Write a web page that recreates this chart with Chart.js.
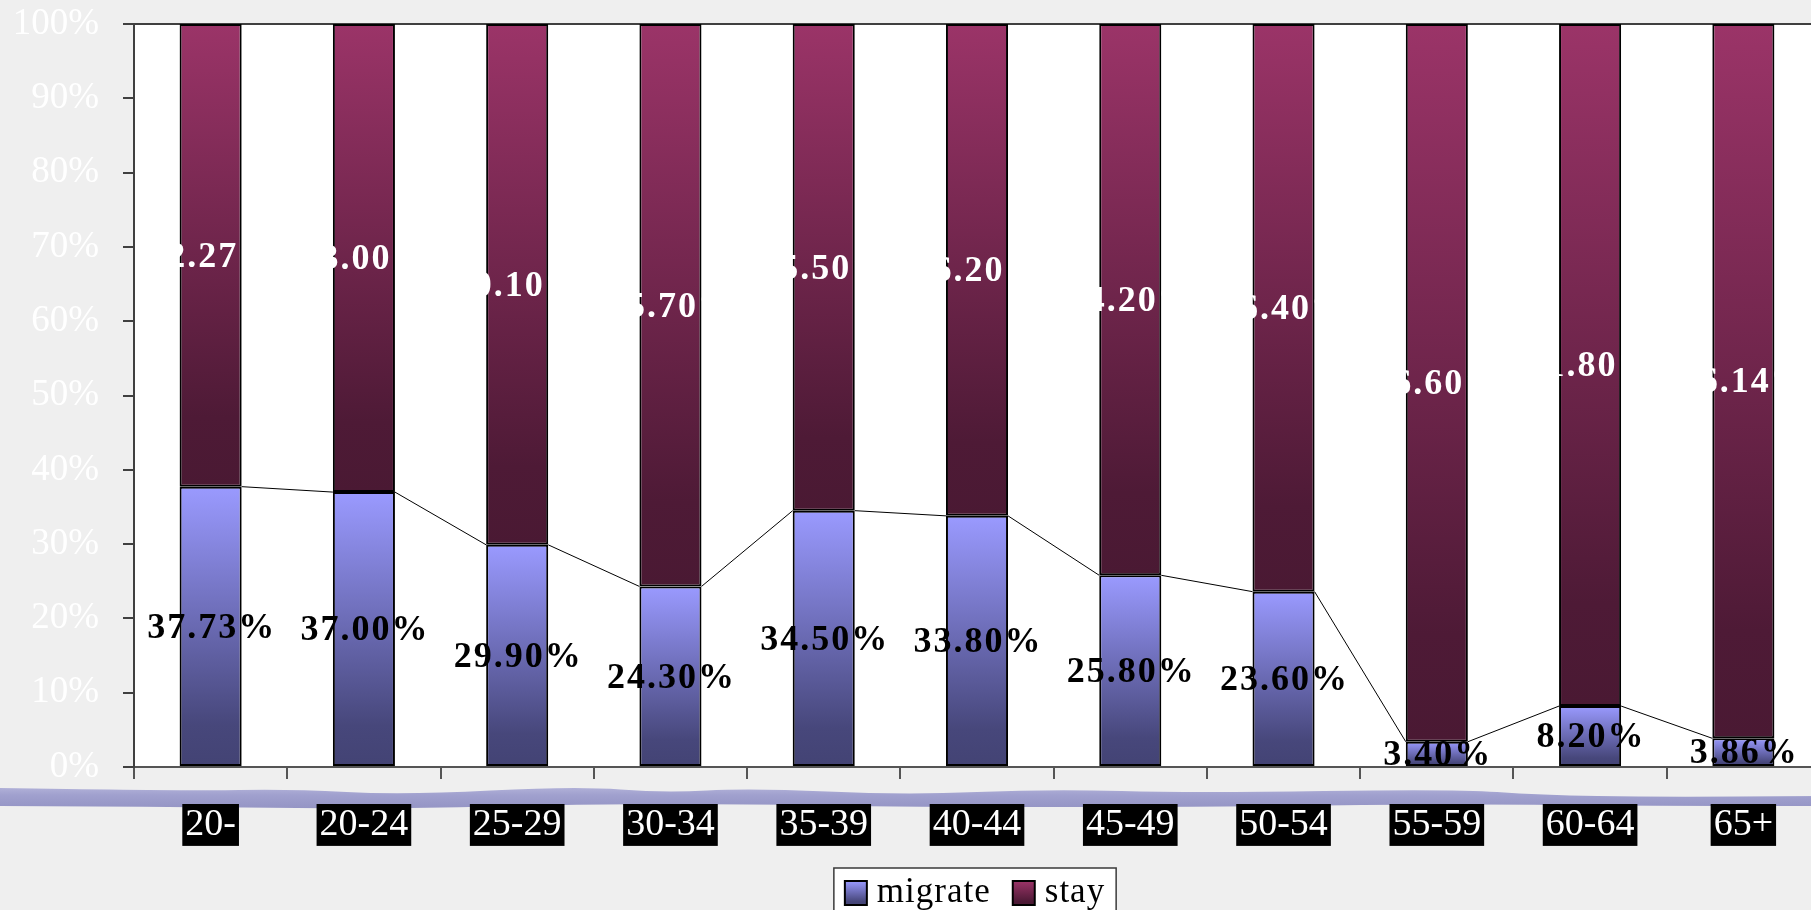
<!DOCTYPE html>
<html><head><meta charset="utf-8">
<script src="https://cdn.jsdelivr.net/npm/chart.js@4.4.1/dist/chart.umd.min.js"></script>
<style>
html,body{margin:0;padding:0;overflow:hidden;background:#efefef;width:1811px;height:910px}
canvas{display:block}
</style></head>
<body><canvas id="c" width="1822" height="910"></canvas>
<script>
const categories = ['20-','20-24','25-29','30-34','35-39','40-44','45-49','50-54','55-59','60-64','65+'];
const migrate = [37.73,37.00,29.90,24.30,34.50,33.80,25.80,23.60,3.40,8.20,3.86];
const stay = [62.27,63.00,70.10,75.70,65.50,66.20,74.20,76.40,96.60,91.80,96.14];
const yTicks = [0,10,20,30,40,50,60,70,80,90,100];
const seriesNames = ['migrate','stay'];

const SERIF = '"Liberation Serif","Times New Roman",serif';
const migrateStops = [[0,'#9a9aff'],[0.85,'#47477b'],[1,'#434374']];
const stayStops = [[0,'#9b3468'],[0.85,'#4e1a36'],[1,'#4a1933']];

function grad(ctx, top, bottom, stops, fallback){
  if (!isFinite(top) || !isFinite(bottom) || top === bottom) return fallback;
  const g = ctx.createLinearGradient(0, top, 0, bottom);
  stops.forEach(([o,c]) => g.addColorStop(o,c));
  return g;
}
function migrateFill(c){
  const ch = c.chart, y = ch.scales && ch.scales.y;
  if (!y || c.dataIndex === undefined) return '#7070c0';
  const i = c.dataIndex;
  return grad(ch.ctx, y.getPixelForValue(migrate[i]), y.getPixelForValue(0), migrateStops, '#7070c0');
}
function stayFill(c){
  const ch = c.chart, y = ch.scales && ch.scales.y;
  if (!y || c.dataIndex === undefined) return '#7a2a55';
  const i = c.dataIndex;
  return grad(ch.ctx, y.getPixelForValue(migrate[i] + stay[i]), y.getPixelForValue(migrate[i]), stayStops, '#7a2a55');
}

// decorative background swoosh (slide template, not data)
const swooshTop = [[0,788],[190,791],[289,789],[404,795],[577,786],[664,793],[750,788],[905,795],[1049,789],[1194,793],[1454,789],[1540,795],[1655,797],[1822,796]];
const swooshBot = [[0,806],[190,807],[404,809],[577,804],[750,804],[905,807],[1194,807],[1454,804],[1655,806],[1822,806]];

function smoothPath(ctx, pts, moveFirst){
  if (moveFirst) ctx.moveTo(pts[0][0], pts[0][1]); else ctx.lineTo(pts[0][0], pts[0][1]);
  for (let k = 1; k < pts.length - 1; k++){
    const mx = (pts[k][0] + pts[k+1][0]) / 2, my = (pts[k][1] + pts[k+1][1]) / 2;
    ctx.quadraticCurveTo(pts[k][0], pts[k][1], mx, my);
  }
  ctx.lineTo(pts[pts.length-1][0], pts[pts.length-1][1]);
}

const decor = {
  id: 'decor',
  beforeDraw(chart){
    const ctx = chart.ctx, ca = chart.chartArea;
    ctx.save();
    ctx.fillStyle = '#efefef';
    ctx.fillRect(0, 0, chart.width, chart.height);
    ctx.beginPath();
    smoothPath(ctx, swooshTop, true);
    smoothPath(ctx, swooshBot.slice().reverse(), false);
    ctx.closePath();
    const g = ctx.createLinearGradient(0, 786, 0, 809);
    g.addColorStop(0, '#b4b4da'); g.addColorStop(0.4, '#a0a0ce'); g.addColorStop(1, '#9494c4');
    ctx.fillStyle = g;
    ctx.fill();
    ctx.fillStyle = '#ffffff';
    ctx.fillRect(ca.left, ca.top, ca.right - ca.left, ca.bottom - ca.top);
    ctx.strokeStyle = '#404040'; ctx.lineWidth = 2;
    ctx.beginPath(); ctx.moveTo(ca.left - 11, ca.top); ctx.lineTo(ca.right, ca.top); ctx.stroke();
    ctx.restore();
  },
  afterDatasetsDraw(chart){
    const ctx = chart.ctx;
    const m0 = chart.getDatasetMeta(0).data, m1 = chart.getDatasetMeta(1).data;
    ctx.save();
    ctx.strokeStyle = '#000'; ctx.lineWidth = 1;
    for (let j = 0; j < m0.length - 1; j++){
      const a = m0[j], b = m0[j+1];
      ctx.beginPath();
      ctx.moveTo(a.x + a.width/2, a.y);
      ctx.lineTo(b.x - b.width/2, b.y);
      ctx.stroke();
    }
    ctx.font = 'bold 36px ' + SERIF;
    ctx.letterSpacing = '2px';
    ctx.textBaseline = 'middle';
    ctx.textAlign = 'left';
    const draw = (meta, vals, color) => {
      ctx.fillStyle = color;
      meta.forEach((el, j) => {
        const t = vals[j].toFixed(2) + '%';
        const w = ctx.measureText(t).width;
        ctx.fillText(t, el.x - w/2 + 1, (el.y + el.base)/2 + 2);
      });
    };
    draw(m0, migrate, '#000000');
    draw(m1, stay, '#ffffff');
    ctx.restore();
  },
  afterDraw(chart){
    const ctx = chart.ctx, ca = chart.chartArea;
    ctx.save();
    ctx.font = '35px ' + SERIF;
    ctx.letterSpacing = '1px';
    const sw = 22, sh = 24, gap = 10, itemGap = 22, pad = 11;
    const ws = seriesNames.map(n => ctx.measureText(n).width);
    const total = pad*2 + ws.reduce((s,w)=>s + sw + gap + w, 0) + itemGap*(ws.length-1);
    const left = (ca.left + ca.right)/2 - total/2 - 2;
    const top = 868;
    ctx.fillStyle = '#ffffff';
    ctx.fillRect(left, top, total, 60);
    ctx.strokeStyle = '#3a3a3a'; ctx.lineWidth = 1.5;
    ctx.strokeRect(left, top, total, 60);
    let x = left + pad;
    const stopsArr = [migrateStops, stayStops];
    seriesNames.forEach((n, k) => {
      ctx.fillStyle = grad(ctx, top + 13, top + 13 + sh, stopsArr[k], '#777');
      ctx.fillRect(x, top + 13, sw, sh);
      ctx.strokeStyle = '#000'; ctx.lineWidth = 2;
      ctx.strokeRect(x, top + 13, sw, sh);
      x += sw + gap;
      ctx.fillStyle = '#000';
      ctx.textBaseline = 'alphabetic';
      ctx.fillText(n, x, top + 34);
      x += ws[k] + itemGap;
    });
    ctx.restore();
  }
};

new Chart(document.getElementById('c'), {
  type: 'bar',
  data: {
    labels: categories,
    datasets: [
      { label: seriesNames[0], data: migrate, backgroundColor: migrateFill, borderColor: '#000', borderWidth: 2, borderSkipped: false, barPercentage: 0.405, categoryPercentage: 1 },
      { label: seriesNames[1], data: stay, backgroundColor: stayFill, borderColor: '#000', borderWidth: 2, borderSkipped: false, barPercentage: 0.405, categoryPercentage: 1 }
    ]
  },
  options: {
    responsive: false,
    animation: false,
    devicePixelRatio: 1,
    layout: { padding: { top: 24, left: 0, right: 2, bottom: 0 } },
    plugins: { legend: { display: false }, tooltip: { enabled: false } },
    scales: {
      x: {
        stacked: true,
        afterFit: s => { s.height = 143; s.paddingLeft = 0; s.paddingRight = 0; },
        grid: { drawOnChartArea: false, tickLength: 12, color: '#555', lineWidth: 2, offset: true },
        border: { color: '#555', width: 2 },
        ticks: { color: '#ffffff', font: { family: SERIF, size: 38, lineHeight: 1.05 }, padding: 26,
                 showLabelBackdrop: true, backdropColor: '#000000', backdropPadding: { top: 1, bottom: 1, left: 3, right: 3 },
                 maxRotation: 0, autoSkip: false }
      },
      y: {
        stacked: true, min: 0, max: 100,
        afterFit: s => { s.width = 134; s.paddingTop = 0; s.paddingBottom = 0; },
        afterBuildTicks: s => { s.ticks = yTicks.map(v => ({ value: v })); },
        grid: { drawOnChartArea: false, tickLength: 11, color: '#404040', lineWidth: 2 },
        border: { color: '#404040', width: 2 },
        ticks: { color: '#ffffff', font: { family: SERIF, size: 37 }, padding: 24, callback: v => v + '%' }
      }
    }
  },
  plugins: [decor]
});
</script>
</body></html>
